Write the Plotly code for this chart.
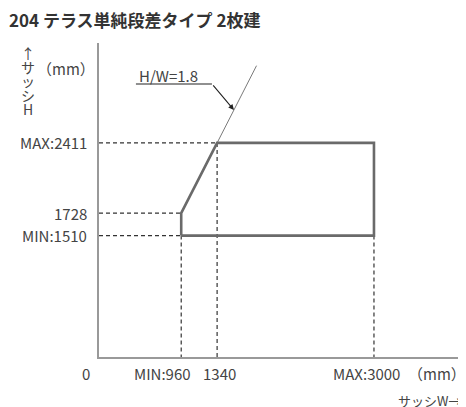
import plotly.graph_objects as go

# ---- data ----
TITLE = "204 テラス単純段差タイプ 2枚建"
W_VALUES = [960, 1340, 3000]          # MIN, slope corner, MAX sash width (mm)
H_VALUES = [1510, 1728, 2411]         # MIN, slope start, MAX sash height (mm)
HW_RATIO = 1.8
W_GUIDE_END = 1757                    # where the thin H/W guide line ends
W_ARROW_TIP = 1518                    # where the H/W leader arrow touches the guide
X_TICK_VALUES = [960, 1340, 3000]
X_TICK_TEXT = ["MIN:960", "1340", "MAX:3000"]
X_TICK_SHIFT = [-19, 2, -7]
ORIGIN_TEXT = "0"
Y_TICK_VALUES = [2411, 1728, 1510]
Y_TICK_TEXT = ["MAX:2411", "1728", "MIN:1510"]
Y_TITLE_CHARS = ["↑", "サ", "ッ", "シ", "H"]
X_TITLE = "サッシW→"
UNIT = "（mm）"
GUIDE_LABEL = "H/W=1.8"
X_RANGE = [90, 3974]
Y_RANGE = [330, 3382]

FONT = "Noto Sans CJK JP, Noto Sans, sans-serif"
TXT = "#444444"

w_min, w_mid, w_max = W_VALUES
h_min, h_mid, h_max = H_VALUES
x0 = X_RANGE[0]
y0 = Y_RANGE[0]

fig = go.Figure()

# dashed reference lines
dx = [x0, w_mid, None, x0, w_min, None, x0, w_min, None,
      w_min, w_min, None, w_mid, w_mid, None, w_max, w_max]
dy = [h_max, h_max, None, h_mid, h_mid, None, h_min, h_min, None,
      h_min, y0, None, h_max, y0, None, h_min, y0]
fig.add_trace(go.Scatter(x=dx, y=dy, mode="lines", hoverinfo="skip",
                         line=dict(color="#333333", width=1.2, dash="4px,3px")))

# thin H/W guide line
guide_x = [w_min, W_GUIDE_END]
guide_y = [h_max + (w - w_mid) * HW_RATIO for w in guide_x]
fig.add_trace(go.Scatter(x=guide_x, y=guide_y, mode="lines", hoverinfo="skip",
                         line=dict(color="#7a7a7a", width=1)))

# range outline
ox = [w_min, w_min, w_mid, w_max, w_max, w_min]
oy = [h_min, h_mid, h_max, h_max, h_min, h_min]
fig.add_trace(go.Scatter(x=ox, y=oy, mode="lines", hoverinfo="skip",
                         line=dict(color="#6a6a6a", width=2.6)))

ann = []
# x tick labels
for v, t, s in zip(X_TICK_VALUES, X_TICK_TEXT, X_TICK_SHIFT):
    ann.append(dict(x=v, y=0, xref="x", yref="paper", text=t, showarrow=False,
                    xanchor="center", yanchor="top", xshift=s, yshift=-4,
                    font=dict(size=15, color=TXT, family=FONT)))
ann.append(dict(x=0, y=0, xref="paper", yref="paper", text=ORIGIN_TEXT, showarrow=False,
                xanchor="center", yanchor="top", xshift=-13, yshift=-4,
                font=dict(size=15, color=TXT, family=FONT)))
# y tick labels
for v, t in zip(Y_TICK_VALUES, Y_TICK_TEXT):
    ann.append(dict(x=0, y=v, xref="paper", yref="y", text=t, showarrow=False,
                    xanchor="right", yanchor="middle", xshift=-10,
                    font=dict(size=15, color=TXT, family=FONT)))
# y title (vertical)
for i, ch in enumerate(Y_TITLE_CHARS):
    ann.append(dict(x=0, y=1, xref="paper", yref="paper", text=ch, showarrow=False,
                    xanchor="center", yanchor="middle", xshift=-71, yshift=-10 - 14 * i,
                    font=dict(size=14, color=TXT, family=FONT)))
ann.append(dict(x=0, y=1, xref="paper", yref="paper", text=UNIT, showarrow=False,
                xanchor="right", yanchor="middle", xshift=-2, yshift=-25,
                font=dict(size=15, color=TXT, family=FONT)))
# x title and unit
ann.append(dict(x=0, y=0, xref="paper", yref="paper", text=UNIT, showarrow=False,
                xanchor="left", yanchor="middle", xshift=307, yshift=-16,
                font=dict(size=15, color=TXT, family=FONT)))
ann.append(dict(x=0, y=0, xref="paper", yref="paper", text=X_TITLE, showarrow=False,
                xanchor="left", yanchor="middle", xshift=297, yshift=-43,
                font=dict(size=13, color=TXT, family=FONT)))
# H/W guide label with leader arrow
tip_h = h_max + (W_ARROW_TIP - w_mid) * HW_RATIO
ann.append(dict(x=W_ARROW_TIP, y=tip_h, xref="x", yref="y", text="", showarrow=True,
                ax=-22, ay=-26, arrowhead=2, arrowsize=1, arrowwidth=1.1,
                arrowcolor="#222222", standoff=0))
ann.append(dict(x=W_ARROW_TIP, y=tip_h, xref="x", yref="y", text=GUIDE_LABEL, showarrow=False,
                xanchor="center", yanchor="middle", xshift=-65, yshift=34,
                font=dict(size=15, color=TXT, family=FONT)))
# title
ann.append(dict(x=0, y=1, xref="paper", yref="paper", text="<b>" + TITLE + "</b>",
                showarrow=False, xanchor="left", yanchor="middle", xshift=-92, yshift=24,
                font=dict(size=17, color="#333333", family=FONT)))

shapes = [dict(type="line", xref="x", yref="y", xsizemode="pixel", ysizemode="pixel",
               xanchor=W_ARROW_TIP, yanchor=tip_h, x0=-98, x1=-22, y0=26, y1=26,
               line=dict(color="#222222", width=1.1))]

# page body has an 8px margin, so the figure is 8px smaller and shifted
fig.update_layout(
    width=458, height=399,
    margin=dict(l=91, r=0, t=35, b=50),
    paper_bgcolor="white", plot_bgcolor="white",
    showlegend=False,
    annotations=ann, shapes=shapes,
    xaxis=dict(range=X_RANGE, showgrid=False, zeroline=False, showticklabels=False,
               ticks="", showline=True, linecolor="#999999", linewidth=1.5),
    yaxis=dict(range=Y_RANGE, showgrid=False, zeroline=False, showticklabels=False,
               ticks="", showline=True, linecolor="#999999", linewidth=1.5),
)

fig.write_html("out.html")
